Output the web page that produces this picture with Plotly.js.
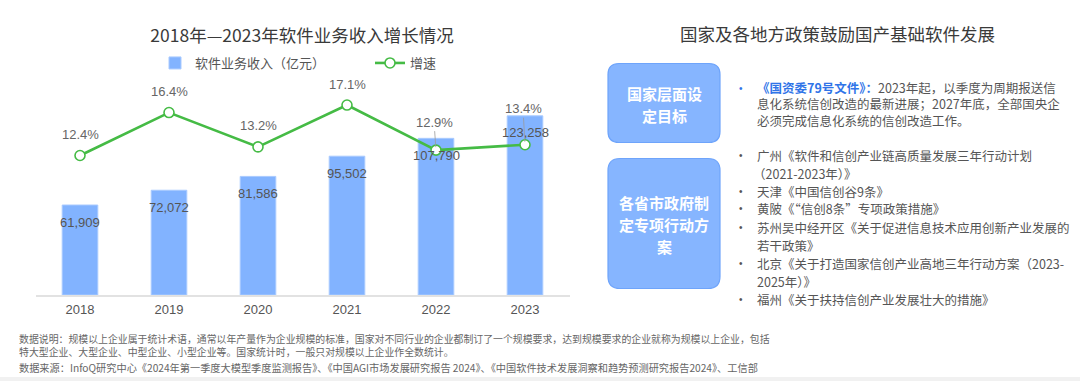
<!DOCTYPE html>
<html>
<head>
<meta charset="utf-8">
<script src="https://cdn.plot.ly/plotly-3.0.1.min.js"></script>
<style>
  html, body { margin: 0; padding: 0; background: #ffffff; }
  #chart { width: 1080px; height: 381px; }
</style>
</head>
<body>
<div id="chart"></div>
<script>
// ---------- data ----------
const years = ['2018', '2019', '2020', '2021', '2022', '2023'];
const revenue = [61909, 72072, 81586, 95502, 107790, 123258];
const growth = [12.4, 16.4, 13.2, 17.1, 12.9, 13.4];

const chartTitle = '2018年—2023年软件业务收入增长情况';
const revenueName = '软件业务收入（亿元）';
const growthName = '增速';

const panelTitle = '国家及各地方政策鼓励国产基础软件发展';
const box1Lines = ['国家层面设', '定目标'];
const box2Lines = ['各省市政府制', '定专项行动方', '案'];

const nationalHead = '《国资委79号文件》：';
const nationalLines = [
  '2023年起，以季度为周期报送信',
  '息化系统信创改造的最新进展；2027年底，全部国央企',
  '必须完成信息化系统的信创改造工作。'
];
// [text, isBulletStart]
const provincialLines = [
  ['广州《软件和信创产业链高质量发展三年行动计划', true],
  ['（2021-2023年）》', false],
  ['天津《中国信创谷9条》', true],
  ['黄陂《“信创8条”专项政策措施》', true],
  ['苏州吴中经开区《关于促进信息技术应用创新产业发展的', true],
  ['若干政策》', false],
  ['北京《关于打造国家信创产业高地三年行动方案（2023-', true],
  ['2025年）》', false],
  ['福州《关于扶持信创产业发展壮大的措施》', true]
];

const noteLines = [
  '数据说明：规模以上企业属于统计术语，通常以年产量作为企业规模的标准，国家对不同行业的企业都制订了一个规模要求，达到规模要求的企业就称为规模以上企业，包括',
  '特大型企业、大型企业、中型企业、小型企业等。国家统计时，一般只对规模以上企业作全数统计。',
  '数据来源：InfoQ研究中心《2024年第一季度大模型季度监测报告》、《中国AGI市场发展研究报告 2024》、《中国软件技术发展洞察和趋势预测研究报告2024》、工信部'
];

// ---------- layout helpers ----------
const W = 1080, H = 381;
const px = x => x / W;
const py = y => 1 - y / H;
const CJK = '"Noto Sans CJK SC", "Noto Sans", sans-serif';
const LAT = '"Liberation Sans", Arial, "Noto Sans CJK SC", sans-serif';

function roundRect(x0, y0, x1, y1, r) {
  const rx = r / W, ry = r / H;
  const X0 = px(x0), X1 = px(x1), Yt = py(y0), Yb = py(y1);
  return `M${X0 + rx},${Yt} L${X1 - rx},${Yt} Q${X1},${Yt} ${X1},${Yt - ry} ` +
         `L${X1},${Yb + ry} Q${X1},${Yb} ${X1 - rx},${Yb} ` +
         `L${X0 + rx},${Yb} Q${X0},${Yb} ${X0},${Yb + ry} ` +
         `L${X0},${Yt - ry} Q${X0},${Yt} ${X0 + rx},${Yt} Z`;
}

// ---------- traces ----------
const barTrace = {
  type: 'bar',
  x: years,
  y: revenue,
  name: revenueName,
  marker: { color: '#82b3ff', line: { color: '#a9caff', width: 1 } },
  showlegend: true
};
const lineTrace = {
  type: 'scatter',
  mode: 'lines+markers',
  x: years,
  y: growth,
  yaxis: 'y2',
  name: growthName,
  line: { color: '#45bb45', width: 2.6 },
  marker: { symbol: 'circle', size: 10, color: '#ffffff', line: { color: '#45bb45', width: 1.6 } },
  showlegend: true,
  legend: 'legend2'
};

// ---------- annotations ----------
const annotations = [];

revenue.forEach((v, i) => {
  annotations.push({
    x: i, y: v, xref: 'x', yref: 'y',
    text: v.toLocaleString('en-US'),
    showarrow: false, yanchor: 'middle', yshift: -17,
    font: { family: LAT, size: 13, color: '#555555' }
  });
});

growth.forEach((v, i) => {
  const label = v.toFixed(1) + '%';
  if (i < 4) {
    annotations.push({
      x: i, y: v, xref: 'x', yref: 'y2',
      text: label, showarrow: false, yanchor: 'middle', yshift: 21,
      font: { family: LAT, size: 13, color: '#666666' }
    });
  } else {
    annotations.push({
      x: i, y: v, xref: 'x', yref: 'y2',
      text: label, showarrow: true, arrowhead: 0, arrowwidth: 0.8,
      arrowcolor: '#9a9a9a', standoff: 3, ax: -2, ay: (i === 4 ? -28 : -36),
      font: { family: LAT, size: 13, color: '#666666' }
    });
  }
});

// right panel title
annotations.push({
  xref: 'paper', yref: 'paper', x: px(837), y: py(33.5),
  text: panelTitle, showarrow: false, xanchor: 'center', yanchor: 'middle',
  font: { family: CJK, size: 17.5, color: '#3a3a3a' }
});

// box labels
function boxText(lines, cx, cy, gap) {
  const n = lines.length;
  lines.forEach((t, k) => {
    annotations.push({
      xref: 'paper', yref: 'paper', x: px(cx), y: py(cy + (k - (n - 1) / 2) * gap),
      text: '<b>' + t + '</b>', showarrow: false, xanchor: 'center', yanchor: 'middle',
      font: { family: CJK, size: 15, color: '#ffffff' }
    });
  });
}
boxText(box1Lines, 664, 104.5, 22);
boxText(box2Lines, 664, 224.5, 22);

// bullets and policy text
const textX = 755, bulletX = 741;
function bullet(y, color) {
  annotations.push({
    xref: 'paper', yref: 'paper', x: px(bulletX), y: py(y),
    text: '•', showarrow: false, xanchor: 'center', yanchor: 'middle',
    font: { family: LAT, size: 10, color: color }
  });
}
const natText = nationalLines.map((t, k) => k === 0
  ? '<b><span style="color:#2f74e8">' + nationalHead + '</span></b>' + t
  : t).join('<br>');
annotations.push({
  xref: 'paper', yref: 'paper', x: px(textX), y: py(104),
  text: natText, showarrow: false, xanchor: 'left', yanchor: 'middle', align: 'left',
  font: { family: CJK, size: 12.5, color: '#555555' }
});
bullet(88.5, '#2f74e8');

const provY0 = 155, provGap = 18;
provincialLines.forEach((item, k) => {
  const y = provY0 + k * provGap;
  annotations.push({
    xref: 'paper', yref: 'paper', x: px(item[0].startsWith('（') ? textX - 4 : textX), y: py(y),
    text: item[0], showarrow: false, xanchor: 'left', yanchor: 'middle',
    font: { family: CJK, size: 12.5, color: '#555555' }
  });
  if (item[1]) bullet(y, '#555555');
});

// notes
annotations.push({
  xref: 'paper', yref: 'paper', x: px(17), y: py(345.8),
  text: noteLines[0] + '<br>' + noteLines[1], showarrow: false,
  xanchor: 'left', yanchor: 'middle', align: 'left',
  font: { family: CJK, size: 9.9, color: '#666666' }
});
annotations.push({
  xref: 'paper', yref: 'paper', x: px(17), y: py(367.5),
  text: noteLines[2], showarrow: false, xanchor: 'left', yanchor: 'middle',
  font: { family: CJK, size: 10.2, color: '#666666' }
});

// ---------- shapes ----------
const shapes = [
  {
    type: 'path', xref: 'paper', yref: 'paper', layer: 'below',
    path: roundRect(608, 63.5, 720, 142.5, 11),
    fillcolor: '#86b5ff', line: { color: '#6ea4fb', width: 1.2 }
  },
  {
    type: 'path', xref: 'paper', yref: 'paper', layer: 'below',
    path: roundRect(608, 158.5, 720, 288.5, 12),
    fillcolor: '#86b5ff', line: { color: '#6ea4fb', width: 1.2 }
  },
  {
    type: 'rect', xref: 'paper', yref: 'paper', layer: 'below',
    x0: 0, x1: 1, y0: 0, y1: py(377),
    fillcolor: '#f1f1f1', line: { width: 0 }
  }
];

// ---------- layout ----------
const layout = {
  width: W, height: H,
  margin: { l: 0, r: 0, t: 0, b: 0 },
  paper_bgcolor: '#ffffff',
  plot_bgcolor: '#ffffff',
  showlegend: true,
  title: {
    text: chartTitle,
    x: px(302), xref: 'paper', xanchor: 'center',
    y: py(35.5), yref: 'paper', yanchor: 'middle',
    font: { family: CJK, size: 17.5, color: '#3a3a3a' }
  },
  xaxis: {
    domain: [px(35.5), px(569.5)],
    type: 'category',
    categoryarray: years,
    range: [-0.5, 5.5], autorange: false,
    showline: true, linecolor: '#e2e2e2', linewidth: 1.5,
    showgrid: false, zeroline: false, ticks: '',
    tickfont: { family: LAT, size: 13, color: '#555555' },
    ticklabelstandoff: 2
  },
  yaxis: {
    domain: [py(295), py(90)],
    range: [0, 141040], autorange: false,
    showgrid: false, zeroline: false, showticklabels: false, showline: false
  },
  yaxis2: {
    overlaying: 'y', side: 'right',
    range: [-0.59, 18.5], autorange: false,
    showgrid: false, zeroline: false, showticklabels: false, showline: false
  },
  bargap: 0.6,
  legend: {
    orientation: 'h', x: px(155), xanchor: 'left', y: py(63), yanchor: 'middle',
    font: { family: CJK, size: 13, color: '#555555' }, bgcolor: 'rgba(0,0,0,0)'
  },
  legend2: {
    orientation: 'h', x: px(370), xanchor: 'left', y: py(63), yanchor: 'middle',
    font: { family: CJK, size: 13, color: '#555555' }, bgcolor: 'rgba(0,0,0,0)'
  },
  annotations: annotations,
  shapes: shapes
};

Plotly.newPlot('chart', [barTrace, lineTrace], layout, { displayModeBar: false, staticPlot: true });
</script>
</body>
</html>
